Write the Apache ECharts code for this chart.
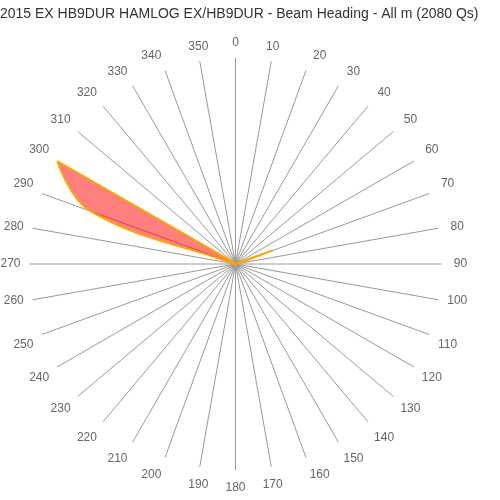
<!DOCTYPE html>
<html>
<head>
<meta charset="utf-8">
<script src="https://cdn.jsdelivr.net/npm/echarts@6/dist/echarts.min.js"></script>
<style>html,body{margin:0;padding:0;background:#fff}#c{width:500px;height:500px}</style>
</head>
<body>
<div id="c"></div>
<script>
const titleText = "2015 EX HB9DUR HAMLOG EX/HB9DUR - Beam Heading - All m (2080 Qs)";
const headings = ["0","10","20","30","40","50","60","70","80","90","100","110","120","130","140","150","160","170","180","190","200","210","220","230","240","250","260","270","280","290","300","310","320","330","340","350"];
const qsoCounts = [4,3,3,3,4,5,8,185,12,5,3,3,2,2,2,2,2,2,2,2,2,2,2,3,3,3,4,5,10,720,960,12,6,4,4,4];

const font = 'Liberation Sans, Arial, sans-serif';
const chart = echarts.init(document.getElementById('c'), null, {renderer:'canvas'});
chart.setOption({
  animation: false,
  backgroundColor: '#fff',
  title: {
    text: titleText,
    left: -5, top: 2,
    textStyle: {fontFamily: font, fontSize: 14, fontWeight: 'normal', color: '#333'}
  },
  polar: {center: [235.5, 264], radius: 206},
  angleAxis: {
    type: 'category', data: headings, boundaryGap: false, startAngle: 90, clockwise: true,
    axisLine: {show: false}, axisTick: {show: false},
    splitLine: {show: true, interval: 0, lineStyle: {color: '#999', width: 1}},
    axisLabel: {
      interval: 0, margin: 8,
      formatter: function (v) {
        const a = Number(v);
        const style = (a >= 140 && a <= 220) ? 'b' : 'h';
        return '{' + style + '|' + v + '}';
      },
      rich: {
        h: {width: 22, height: 14, lineHeight: 14, align: 'center', verticalAlign: 'middle', color: '#666', fontSize: 12, fontFamily: font},
        b: {width: 22, height: 14, lineHeight: 14, padding: [5, 0, 0, 0], align: 'center', verticalAlign: 'middle', color: '#666', fontSize: 12, fontFamily: font}
      }
    }
  },
  radiusAxis: {
    min: 0, max: Math.max(...qsoCounts),
    axisLine: {show: false}, axisTick: {show: false}, axisLabel: {show: false}, splitLine: {show: false}
  },
  series: [{
    type: 'line', coordinateSystem: 'polar', data: qsoCounts, smooth: 0.4, symbol: 'none',
    lineStyle: {color: '#ffa500', width: 2},
    areaStyle: {color: 'rgba(255,0,0,0.5)', opacity: 1}
  }]
});
</script>
</body>
</html>
